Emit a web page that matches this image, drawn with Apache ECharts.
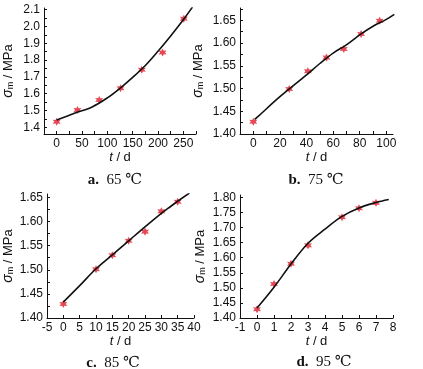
<!DOCTYPE html>
<html><head><meta charset="utf-8">
<script src="https://cdn.jsdelivr.net/npm/echarts@6/dist/echarts.min.js"></script>
<style>html,body{margin:0;padding:0;background:#fff}#c{width:423px;height:369px}</style>
</head><body><div id="c"></div>
<script>
// ---- data ----
// panel a: 65 ℃
const aT = [0, 41, 84, 126, 168, 209, 251];
const aV = [1.433, 1.503, 1.562, 1.632, 1.742, 1.845, 2.046];
const aFitT = [0, 35, 70, 100, 125, 150, 175, 200, 225, 250, 268];
const aFitV = [1.443, 1.483, 1.521, 1.575, 1.632, 1.697, 1.768, 1.853, 1.944, 2.040, 2.115];
// panel b: 75 ℃
const bT = [0, 27, 41, 55, 68, 81, 95];
const bV = [1.427, 1.499, 1.538, 1.568, 1.587, 1.620, 1.649];
const bFitT = [1, 3, 20, 40, 50, 60, 70, 81, 90, 100, 106];
const bFitV = [1.432, 1.437, 1.482, 1.530, 1.555, 1.578, 1.596, 1.620, 1.637, 1.652, 1.663];
// panel c: 85 ℃
const cT = [0, 10, 15, 20, 25, 30, 35];
const cV = [1.429, 1.501, 1.530, 1.560, 1.579, 1.621, 1.641];
const cFitT = [0, 5, 10, 15, 20, 25, 30, 32, 35, 38.6];
const cFitV = [1.433, 1.467, 1.502, 1.531, 1.560, 1.589, 1.617, 1.627, 1.642, 1.659];
// panel d: 95 ℃
const dT = [0, 1, 2, 3, 5, 6, 7];
const dV = [1.429, 1.513, 1.580, 1.641, 1.734, 1.764, 1.782];
const dFitT = [0, 1, 2, 3, 4, 5, 6, 7, 7.75];
const dFitV = [1.433, 1.502, 1.579, 1.648, 1.695, 1.737, 1.765, 1.783, 1.793];

// tick labels
const aXLabels = [0, 50, 100, 150, 200, 250];
const aXTicks = [-25, 0, 25, 50, 75, 100, 125, 150, 175, 200, 225, 250, 275];
const aYLabels = [1.4, 1.5, 1.6, 1.7, 1.8, 1.9, 2.0, 2.1];
const aYTicks = [1.4, 1.45, 1.5, 1.55, 1.6, 1.65, 1.7, 1.75, 1.8, 1.85, 1.9, 1.95, 2.0, 2.05, 2.1];
const bXLabels = [0, 20, 40, 60, 80, 100];
const bXTicks = [-10, 0, 10, 20, 30, 40, 50, 60, 70, 80, 90, 100];
const bYLabels = [1.40, 1.45, 1.50, 1.55, 1.60, 1.65];
const bYTicks = [1.40, 1.425, 1.45, 1.475, 1.50, 1.525, 1.55, 1.575, 1.60, 1.625, 1.65, 1.675];
const cXLabels = [-5, 0, 5, 10, 15, 20, 25, 30, 35, 40];
const cXTicks = [-5, 0, 5, 10, 15, 20, 25, 30, 35, 40];
const cYLabels = [1.40, 1.45, 1.50, 1.55, 1.60, 1.65];
const cYTicks = [1.40, 1.425, 1.45, 1.475, 1.50, 1.525, 1.55, 1.575, 1.60, 1.625, 1.65];
const dXLabels = [-1, 0, 1, 2, 3, 4, 5, 6, 7, 8];
const dXTicks = [-1, 0, 1, 2, 3, 4, 5, 6, 7, 8];
const dYLabels = [1.40, 1.45, 1.50, 1.55, 1.60, 1.65, 1.70, 1.75, 1.80];
const dYTicks = [1.40, 1.45, 1.50, 1.55, 1.60, 1.65, 1.70, 1.75, 1.80];

const captions = [['a.', '65 ℃'], ['b.', '75 ℃'], ['c.', '85 ℃'], ['d.', '95 ℃']];

// ---- chart ----
const FONT = "'Liberation Sans Narrow', 'Arial Narrow', 'Liberation Sans', Arial, sans-serif";
const SERIF = "'Liberation Serif', 'DejaVu Serif', serif";
const INK = '#111';
const RED = '#e01c2a';
const STAR = 'path://M0,-10 L2.6,-4.5 L8.66,-5 L5.2,0 L8.66,5 L2.6,4.5 L0,10 L-2.6,4.5 L-8.66,5 L-5.2,0 L-8.66,-5 L-2.6,-4.5 Z';

const grids = [
  {left: 42, top: 8, width: 154, height: 126},
  {left: 240, top: 8, width: 153, height: 126},
  {left: 44, top: 194, width: 150, height: 124},
  {left: 240, top: 195, width: 153, height: 123}
];
const xCfg = [
  {min: -25, max: 275, labels: aXLabels, ticks: aXTicks},
  {min: -10, max: 105, labels: bXLabels, ticks: bXTicks},
  {min: -5, max: 40, labels: cXLabels, ticks: cXTicks},
  {min: -1, max: 8, labels: dXLabels, ticks: dXTicks}
];
const yCfg = [
  {min: 1.36, max: 2.11, labels: aYLabels, ticks: aYTicks, dec: 1, gap: 29},
  {min: 1.40, max: 1.677, labels: bYLabels, ticks: bYTicks, dec: 2, gap: 35},
  {min: 1.40, max: 1.657, labels: cYLabels, ticks: cYTicks, dec: 2, gap: 32},
  {min: 1.40, max: 1.808, labels: dYLabels, ticks: dYTicks, dec: 2, gap: 33}
];
const pts = [[aT, aV], [bT, bV], [cT, cV], [dT, dV]];
const fits = [[aFitT, aFitV], [bFitT, bFitV], [cFitT, cFitV], [dFitT, dFitV]];
const capPos = [[110, 168], [311, 168], [108, 351], [319, 350]];

const axisLine = {show: true, lineStyle: {color: INK, width: 1}};
const xAxis = xCfg.map((c, i) => ({
  type: 'value', gridIndex: i, min: c.min, max: c.max,
  axisLine: Object.assign({onZero: false}, axisLine),
  axisTick: {show: true, inside: true, length: 3, customValues: c.ticks, lineStyle: {color: INK}},
  axisLabel: {customValues: c.labels, color: INK, fontSize: 12, fontFamily: FONT, margin: 4,
    formatter: v => String(v)},
  splitLine: {show: false},
  name: '{i|t} / d', nameLocation: 'middle', nameGap: 15,
  nameTextStyle: {color: INK, fontSize: 13, fontFamily: FONT, rich: {i: {fontStyle: 'italic', fontSize: 13, fontFamily: FONT, color: INK}}}
}));
const yAxis = yCfg.map((c, i) => ({
  type: 'value', gridIndex: i, min: c.min, max: c.max,
  axisLine: Object.assign({onZero: false}, axisLine),
  axisTick: {show: true, inside: true, length: 3, customValues: c.ticks, lineStyle: {color: INK}},
  axisLabel: {customValues: c.labels, color: INK, fontSize: 12, fontFamily: FONT, margin: 4,
    formatter: v => v.toFixed(c.dec)},
  splitLine: {show: false},
  name: '{i|σ}{s|m} / MPa', nameLocation: 'middle', nameGap: c.gap, nameRotate: 90,
  nameTextStyle: {color: INK, fontSize: 13, fontFamily: FONT,
    rich: {i: {fontStyle: 'italic', fontSize: 14, fontFamily: FONT, color: INK},
           s: {fontSize: 9, fontFamily: FONT, color: INK, verticalAlign: 'bottom', padding: [5, 0, 0, 0]}}}
}));
const series = [];
pts.forEach((p, i) => {
  series.push({type: 'scatter', xAxisIndex: i, yAxisIndex: i, symbol: STAR, symbolSize: 8,
    itemStyle: {color: RED}, data: p[0].map((t, k) => [t, p[1][k]]), silent: true, z: 2});
});
fits.forEach((f, i) => {
  series.push({type: 'line', xAxisIndex: i, yAxisIndex: i, showSymbol: false, smooth: 0.35,
    lineStyle: {color: INK, width: 1.6}, data: f[0].map((t, k) => [t, f[1][k]]), silent: true, z: 3});
});
const title = captions.map((c, i) => ({
  text: '{b|' + c[0] + '}  ' + c[1], left: capPos[i][0], top: capPos[i][1], textAlign: 'center',
  textStyle: {fontSize: 15, fontFamily: SERIF, fontWeight: 'normal', color: INK,
    rich: {b: {fontWeight: 'bold', fontSize: 15, fontFamily: SERIF, color: INK}}}
}));

const chart = echarts.init(document.getElementById('c'), null, {renderer: 'canvas'});
chart.setOption({animation: false, backgroundColor: '#fff', title, grid: grids, xAxis, yAxis, series});
</script></body></html>
